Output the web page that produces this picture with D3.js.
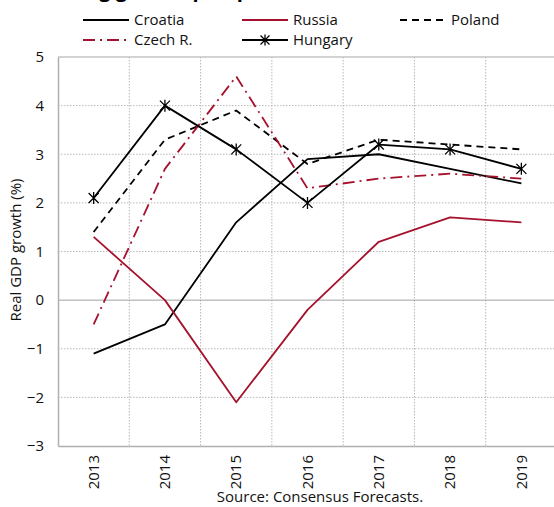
<!DOCTYPE html>
<html><head><meta charset="utf-8">
<script src="https://cdn.jsdelivr.net/npm/d3@7"></script>
<style>body{margin:0;background:#fff}svg{display:block}text{font-family:"Open Sans",sans-serif}</style>
</head><body><svg id="c" width="554" height="507"></svg>
<script>
const years = ["2013","2014","2015","2016","2017","2018","2019"];
const croatia = [-1.1,-0.5,1.6,2.9,3.0,2.7,2.4];
const russia  = [1.3,0.0,-2.1,-0.2,1.2,1.7,1.6];
const poland  = [1.4,3.3,3.9,2.8,3.3,3.2,3.1];
const czech   = [-0.5,2.7,4.6,2.3,2.5,2.6,2.5];
const hungary = [2.1,4.0,3.1,2.0,3.2,3.1,2.7];
const yTicks = [-3,-2,-1,0,1,2,3,4,5];

const RED = "#a6122d";
const series = [
  {name:"Croatia", vals:croatia, color:"#000", dash:null, marker:false},
  {name:"Russia", vals:russia, color:RED, dash:null, marker:false},
  {name:"Poland", vals:poland, color:"#000", dash:"7,5", marker:false},
  {name:"Czech R.", vals:czech, color:RED, dash:"12,5,2,5", marker:false},
  {name:"Hungary", vals:hungary, color:"#000", dash:null, marker:true}
];

const svg = d3.select("#c");
const L = 58, R = 557, T = 57, B = 446;
const x = d3.scaleBand().domain(years).range([L, R]);
const y = d3.scaleLinear().domain([-3,5]).range([B, T]);

// title (cut off at top in the original)
svg.append("text").attr("x",0).attr("y",-3).attr("font-size",20).attr("font-weight","bold")
  .text("Recovering growth prospects across the countries");

// gridlines
const g = svg.append("g");
yTicks.filter(v=>v!==0 && v!==-3 && v!==5).forEach(v=>{
  g.append("line").attr("x1",L).attr("x2",R).attr("y1",y(v)).attr("y2",y(v))
   .attr("stroke","#b8b8b8").attr("stroke-width",1).attr("stroke-dasharray","1.5,1.5");
});
years.slice(1).forEach(yr=>{
  g.append("line").attr("x1",x(yr)).attr("x2",x(yr)).attr("y1",T).attr("y2",B)
   .attr("stroke","#b8b8b8").attr("stroke-width",1).attr("stroke-dasharray","1.5,1.5");
});
g.append("line").attr("x1",L).attr("x2",R).attr("y1",T).attr("y2",T).attr("stroke","#c4c4c4").attr("stroke-width",1.5);
g.append("line").attr("x1",L).attr("x2",R).attr("y1",y(0)).attr("y2",y(0)).attr("stroke","#a0a0a0").attr("stroke-width",1);

// axes
const yAxis = d3.axisLeft(y).tickValues(yTicks).tickSize(0).tickPadding(14).tickFormat(d3.format("d"));
const ya = svg.append("g").attr("transform",`translate(${L},0)`).call(yAxis);
ya.select(".domain").attr("stroke","#b0b0b0").attr("stroke-width",1.5);
ya.selectAll("text").attr("font-size",15).attr("fill","#111").attr("font-family","Open Sans");

const xAxis = d3.axisBottom(x).tickSize(0).tickPadding(0);
const xa = svg.append("g").attr("transform",`translate(0,${B})`).call(xAxis);
xa.select(".domain").attr("stroke","#b0b0b0").attr("stroke-width",1.5);
xa.selectAll("text").attr("font-size",15).attr("fill","#111").attr("font-family","Open Sans")
  .attr("transform","rotate(-90)").attr("text-anchor","end").attr("dy","0.35em").attr("x",-9).attr("y",0);

// y label
svg.append("text").attr("transform","translate(21,250) rotate(-90)").attr("text-anchor","middle")
  .attr("font-size",15).attr("fill","#111").text("Real GDP growth (%)");

// source
svg.append("text").attr("x",320).attr("y",502).attr("text-anchor","middle").attr("font-size",15)
  .attr("fill","#111").text("Source: Consensus Forecasts.");

// lines
const line = d3.line().x((d,i)=>x(years[i])+x.bandwidth()/2).y(d=>y(d));
function star(sel, cx, cy, r){
  sel.append("path").attr("d",`M${cx-r},${cy-r}L${cx+r},${cy+r}M${cx-r},${cy+r}L${cx+r},${cy-r}M${cx},${cy-r-1}L${cx},${cy+r+1}`)
    .attr("stroke","#000").attr("stroke-width",1.3).attr("fill","none");
}
series.forEach(s=>{
  svg.append("path").datum(s.vals).attr("d",line).attr("fill","none").attr("stroke",s.color)
    .attr("stroke-width",1.8).attr("stroke-dasharray",s.dash).attr("stroke-linejoin","round");
  if(s.marker){
    s.vals.forEach((v,i)=>star(svg, x(years[i])+x.bandwidth()/2, y(v), 5));
  }
});

// legend
const legPos = [[83,20],[242,20],[400,20],[83,40],[242,40]];
series.forEach((s,i)=>{
  const [lx,ly] = legPos[i];
  svg.append("line").attr("x1",lx).attr("x2",lx+46).attr("y1",ly).attr("y2",ly).attr("stroke",s.color)
    .attr("stroke-width",1.8).attr("stroke-dasharray",s.dash);
  if(s.marker) star(svg, lx+23, ly, 4.5);
  svg.append("text").attr("x",lx+51).attr("y",ly).attr("dy","0.35em").attr("font-size",15).attr("fill","#111").text(s.name);
});
</script></body></html>
